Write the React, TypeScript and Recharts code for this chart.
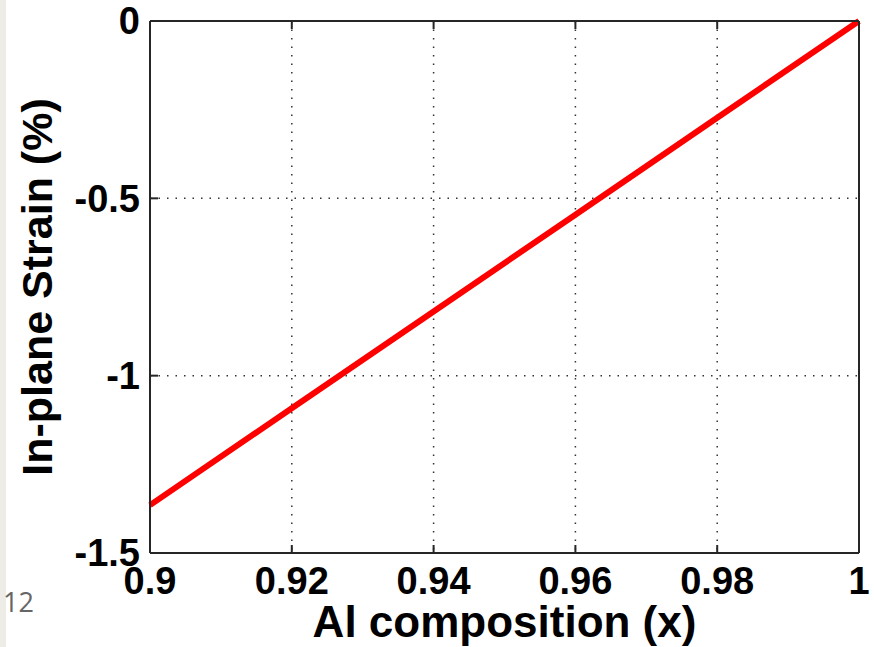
import { CartesianGrid, Line, LineChart, XAxis, YAxis } from "recharts";

// Al composition (x) vs in-plane strain (%)
const composition = [0.9, 0.92, 0.94, 0.96, 0.98, 1];
const strain = [-1.365, -1.092, -0.819, -0.546, -0.273, 0];

const xTicks = [0.9, 0.92, 0.94, 0.96, 0.98, 1];
const xTickLabels = ["0.9", "0.92", "0.94", "0.96", "0.98", "1"];
const yTicks = [0, -0.5, -1, -1.5];
const yTickLabels = ["0", "-0.5", "-1", "-1.5"];

const data = composition.map((x, i) => ({ x, strain: strain[i] }));

const FONT = "'Liberation Sans', Arial, sans-serif";
const BOX = "#262626";
const TICK = { fill: "#000", fontSize: 38, fontWeight: 700, fontFamily: FONT };

const xLabel = (v: number) => xTickLabels[xTicks.indexOf(v)] ?? String(v);
const yLabel = (v: number) => yTickLabels[yTicks.indexOf(v)] ?? String(v);

function YTitle({ viewBox }: any) {
  const x = viewBox.x + 52;
  const y = viewBox.y + viewBox.height / 2;
  return (
    <text
      x={x}
      y={y}
      transform={`rotate(-90, ${x}, ${y})`}
      textAnchor="middle"
      fontFamily={FONT}
      fontWeight={700}
      fontSize={43}
      fill="#000"
    >
      In-plane Strain (%)
    </text>
  );
}

function XTitle({ viewBox }: any) {
  const x = viewBox.x + viewBox.width / 2;
  const y = viewBox.y + viewBox.height - 10;
  return (
    <text x={x} y={y} textAnchor="middle" fontFamily={FONT} fontWeight={700} fontSize={44} fill="#000">
      Al composition (x)
    </text>
  );
}

export default function App() {
  return (
    <div style={{ position: "absolute", left: 0, top: 0, width: 874, height: 647, background: "#fff" }}>
      <div style={{ position: "absolute", left: 0, top: 0, width: 6, height: 647, background: "#eeece7" }} />
      <LineChart
        width={874}
        height={647}
        data={data}
        margin={{ top: 20, right: 14, left: 0, bottom: 0 }}
      >
        <CartesianGrid
          xAxisId="bottom"
          yAxisId="left"
          stroke="#333"
          strokeWidth={1.5}
          strokeDasharray="1.5 7"
        />
        <XAxis
          xAxisId="bottom"
          dataKey="x"
          type="number"
          domain={[0.9, 1]}
          ticks={xTicks}
          interval={0}
          tickFormatter={xLabel}
          tick={TICK}
          tickSize={-8}
          tickMargin={22}
          tickLine={{ stroke: BOX, strokeWidth: 2 }}
          axisLine={{ stroke: BOX, strokeWidth: 2 }}
          height={94}
          label={<XTitle />}
        />
        <XAxis
          xAxisId="top"
          orientation="top"
          dataKey="x"
          type="number"
          domain={[0.9, 1]}
          ticks={xTicks}
          interval={0}
          tickFormatter={() => ""}
          tickSize={-8}
          tickLine={{ stroke: BOX, strokeWidth: 2 }}
          axisLine={{ stroke: BOX, strokeWidth: 2 }}
          height={1}
        />
        <YAxis
          yAxisId="left"
          type="number"
          domain={[-1.5, 0]}
          ticks={yTicks}
          interval={0}
          tickFormatter={yLabel}
          tick={TICK}
          tickSize={-8}
          tickMargin={18}
          tickLine={{ stroke: BOX, strokeWidth: 2 }}
          axisLine={{ stroke: BOX, strokeWidth: 2 }}
          width={150}
          label={<YTitle />}
        />
        <YAxis
          yAxisId="right"
          orientation="right"
          type="number"
          domain={[-1.5, 0]}
          ticks={yTicks}
          interval={0}
          tickFormatter={() => ""}
          tickSize={-8}
          tickLine={{ stroke: BOX, strokeWidth: 2 }}
          axisLine={{ stroke: BOX, strokeWidth: 2 }}
          width={1}
        />
        <Line
          xAxisId="bottom"
          yAxisId="left"
          type="linear"
          dataKey="strain"
          stroke="#ff0000"
          strokeWidth={6}
          dot={false}
          isAnimationActive={false}
        />
      </LineChart>
      <div
        style={{
          position: "absolute",
          left: 3,
          top: 583,
          fontFamily: "'Open Sans', sans-serif",
          fontSize: 27,
          color: "#666",
        }}
      >
        12
      </div>
    </div>
  );
}
